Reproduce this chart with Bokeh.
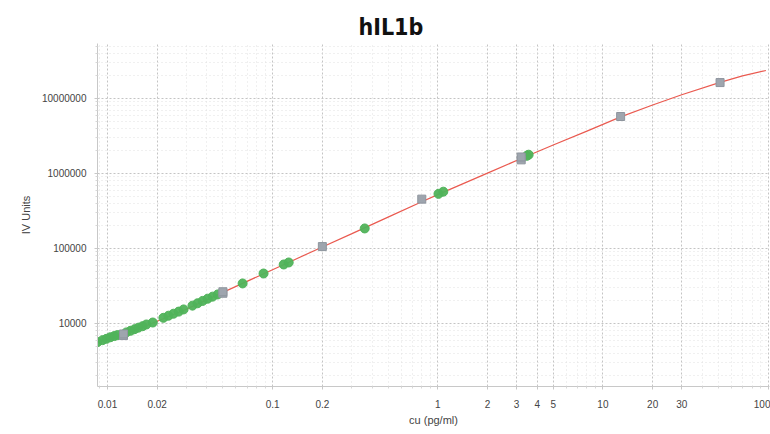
from bokeh.plotting import figure
from bokeh.models import Range1d, FixedTicker, CustomJSTickFormatter
from bokeh.embed import file_html
from bokeh.resources import INLINE

# ---- data ----
std_conc = [0.0125, 0.0125, 0.05, 0.05, 0.2, 0.8, 3.2, 3.2, 12.8, 51.2]
std_iv = [6900, 7250, 25300, 26500, 106000, 455000, 1520000, 1660000, 5750000, 16300000]

sample_conc = [0.0087, 0.00933, 0.00986, 0.0104, 0.0110, 0.0115, 0.0130, 0.0138,
               0.0146, 0.0154, 0.0163, 0.0172, 0.0188, 0.0218, 0.0234, 0.0251,
               0.0270, 0.0289, 0.0327, 0.0351, 0.0377, 0.0404, 0.0433, 0.0465,
               0.0658, 0.0881, 0.1167, 0.1251, 0.361, 1.01, 1.08, 3.46, 3.55]
sample_iv = [5650, 6000, 6250, 6550, 6800, 7000, 7600, 8000,
             8400, 8800, 9200, 9700, 10300, 11900, 12700, 13500,
             14400, 15400, 17300, 18600, 20000, 21400, 22800, 24400,
             34200, 46400, 61200, 65100, 185000, 535000, 572000, 1720000, 1780000]

curve_conc = [0.0087, 0.0125, 0.02, 0.03, 0.05, 0.08, 0.12, 0.2, 0.3, 0.5, 0.8,
              1.0, 2.0, 3.2, 5.0, 8.0, 12.8, 20.0, 30.0, 51.2, 70.0, 97.0]
curve_iv = [5690, 7080, 10700, 15500, 26000, 41700, 62700, 104700, 156700, 262000, 419000,
            522000, 1010000, 1585000, 2400000, 3670000, 5690000, 8200000, 11200000,
            16400000, 20000000, 23600000]

x_ticks = [0.01, 0.02, 0.1, 0.2, 1, 2, 3, 4, 5, 10, 20, 30, 100]
x_labels = ["0.01", "0.02", "0.1", "0.2", "1", "2", "3", "4", "5", "10", "20", "30", "100"]
x_minor = [0.009, 0.03, 0.04, 0.05, 0.06, 0.07, 0.08, 0.09, 0.3, 0.4, 0.5, 0.6, 0.7,
           0.8, 0.9, 6, 7, 8, 9, 40, 50, 60, 70, 80, 90]
y_ticks = [10000, 100000, 1000000, 10000000]
y_labels = ["10000", "100000", "1000000", "10000000"]
y_minor = [m * 10 ** e for e in range(3, 8) for m in range(2, 10)]

title_text = "hIL1b"
x_title = "cu (pg/ml)"
y_title = "IV Units"

# ---- figure ----
p = figure(width=770, height=434, x_axis_type="log", y_axis_type="log",
           x_range=Range1d(0.0087, 102.0), y_range=Range1d(1445, 5.41e7),
           output_backend="svg", toolbar_location=None,
           min_border_left=97, min_border_right=1, min_border_top=43, min_border_bottom=48)

p.title.text = title_text
p.title.align = "left"
p.title.offset = 261
p.title.text_font = "'DejaVu Sans Condensed', 'DejaVu Sans'"
p.title.text_font_style = "bold"
p.title.text_font_size = "23px"
p.title.text_color = "#111111"
p.title.standoff = 8

p.outline_line_color = None
p.background_fill_color = "white"
p.border_fill_color = "white"

fmt_code = """
for (let i = 0; i < tv.length; i++) {
  if (Math.abs(Math.log10(tick / tv[i])) < 1e-6) { return tl[i]; }
}
return "";
"""
p.xaxis.ticker = FixedTicker(ticks=x_ticks, minor_ticks=x_minor)
p.yaxis.ticker = FixedTicker(ticks=y_ticks, minor_ticks=y_minor)
p.xaxis.formatter = CustomJSTickFormatter(args=dict(tv=x_ticks, tl=x_labels), code=fmt_code)
p.yaxis.formatter = CustomJSTickFormatter(args=dict(tv=y_ticks, tl=y_labels), code=fmt_code)

for ax in (p.xaxis, p.yaxis):
    ax.axis_line_color = "#c8c8c8"
    ax.major_tick_line_color = "#c8c8c8"
    ax.minor_tick_line_color = "#d8d8d8"
    ax.major_tick_out = 3
    ax.major_tick_in = 0
    ax.minor_tick_out = 2
    ax.minor_tick_in = 0
    ax.major_label_text_font = "Liberation Sans"
    ax.major_label_text_font_size = "10px"
    ax.major_label_text_color = "#444444"
    ax.axis_label_text_font = "Liberation Sans"
    ax.axis_label_text_font_size = "11px"
    ax.axis_label_text_font_style = "normal"
    ax.axis_label_text_color = "#444444"

p.xaxis.axis_label = x_title
p.yaxis.axis_label = y_title
p.xaxis.major_label_standoff = 10
p.xaxis.axis_label_standoff = 3
p.yaxis.major_label_standoff = 8
p.yaxis.axis_label_standoff = 7

for g in (p.xgrid, p.ygrid):
    g.grid_line_color = "#c4c4c4"
    g.grid_line_dash = "2 2"
    g.grid_line_width = 1
    g.minor_grid_line_color = "#e0e0e0"
    g.minor_grid_line_dash = "1 3"

p.line(curve_conc, curve_iv, line_color="#ea5a50", line_width=1.2)
p.scatter(sample_conc, sample_iv, marker="circle", size=9,
          fill_color="#50b35a", line_color="#50b35a", fill_alpha=0.95)
p.scatter(std_conc, std_iv, marker="square", size=8,
          fill_color="#9ea5ae", line_color="#8e959e")

open("out.html", "w").write(file_html(p, INLINE))
